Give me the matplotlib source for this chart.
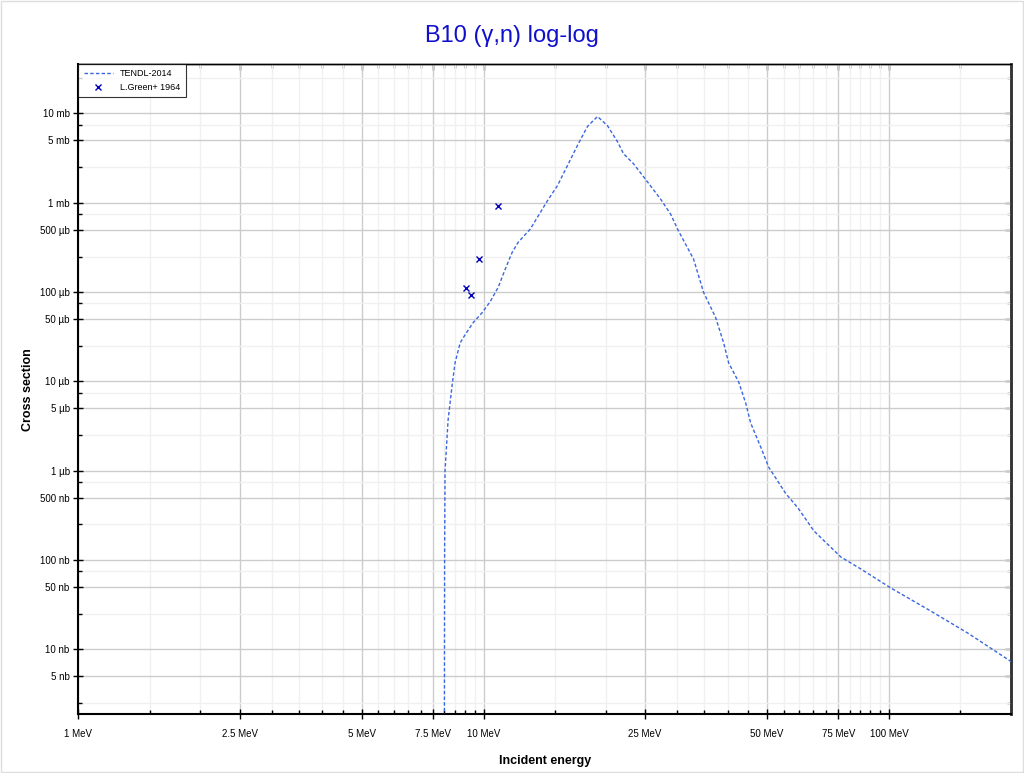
import matplotlib
matplotlib.use("Agg")
import matplotlib.pyplot as plt
from matplotlib.ticker import FixedLocator, FixedFormatter, NullFormatter
from matplotlib.patches import Rectangle

plt.rcParams['font.family'] = ['Liberation Sans', 'DejaVu Sans']

# ---- data (energies in MeV, cross sections in barns) ----
tendl_energy = [7.99, 8.01, 8.03, 8.17, 8.36, 8.50, 8.75, 9.00, 9.42, 9.92, 10.38,
                10.86, 11.30, 11.76, 12.17, 13.03, 14.36, 15.20, 16.09, 17.03, 18.03,
                19.09, 20.20, 21.38, 22.13, 23.42, 25.37, 27.32, 28.92, 30.09, 32.96,
                34.89, 37.36, 39.09, 40.22, 42.58, 44.31, 45.60, 48.28, 50.52, 55.65,
                59.57, 65.26, 76.08, 85.27, 101.2, 127.0, 156.8, 200.0]
tendl_xs = [1e-11, 9.75e-8, 1.0e-6, 3.67e-6, 9.1e-6, 1.61e-5, 2.70e-5, 3.33e-5, 4.55e-5,
            5.89e-5, 7.83e-5, 1.13e-4, 1.80e-4, 2.79e-4, 3.62e-4, 5.07e-4, 1.05e-3,
            1.55e-3, 2.60e-3, 4.37e-3, 7.14e-3, 9.25e-3, 7.32e-3, 4.84e-3, 3.55e-3,
            2.74e-3, 1.71e-3, 1.10e-3, 7.48e-4, 5.07e-4, 2.33e-4, 9.9e-5, 5.18e-5,
            2.70e-5, 1.61e-5, 9.84e-6, 5.71e-6, 3.40e-6, 1.83e-6, 1.09e-6, 5.54e-7,
            3.85e-7, 2.12e-7, 1.08e-7, 7.92e-8, 4.84e-8, 2.67e-8, 1.51e-8, 7.3e-9]

green_energy = [9.02, 9.31, 9.73, 10.84]
green_xs = [1.12e-4, 9.16e-5, 2.33e-4, 9.27e-4]

x_major = [1, 2.5, 5, 7.5, 10, 25, 50, 75, 100]
x_major_labels = ["1 MeV", "2.5 MeV", "5 MeV", "7.5 MeV", "10 MeV", "25 MeV",
                  "50 MeV", "75 MeV", "100 MeV"]
x_minor = [1.5, 2, 3, 3.5, 4, 4.5, 5.5, 6, 6.5, 7, 8, 8.5, 9, 9.5,
           15, 20, 30, 35, 40, 45, 55, 60, 65, 70, 80, 85, 90, 95, 150]

y_major = [5e-9, 1e-8, 5e-8, 1e-7, 5e-7, 1e-6, 5e-6, 1e-5, 5e-5, 1e-4, 5e-4,
           1e-3, 5e-3, 1e-2]
y_major_labels = ["5 nb", "10 nb", "50 nb", "100 nb", "500 nb", "1 µb", "5 µb",
                  "10 µb", "50 µb", "100 µb", "500 µb", "1 mb", "5 mb", "10 mb"]
y_minor = [2.5e-9, 2.5e-8, 7.5e-8, 2.5e-7, 7.5e-7, 2.5e-6, 7.5e-6, 2.5e-5, 7.5e-5,
           2.5e-4, 7.5e-4, 2.5e-3, 7.5e-3, 2.5e-2]

fig = plt.figure(figsize=(10.24, 7.73), dpi=100)
fig.patches.append(Rectangle((0.001, 0.001), 0.998, 0.998, transform=fig.transFigure,
                             fill=False, edgecolor='#dddddd', linewidth=1))
ax = fig.add_axes([0.0765, 0.0759, 0.9108, 0.8413])
ax.set_xscale('log')
ax.set_yscale('log')
ax.set_xlim(1, 200)
ax.set_ylim(1.87e-9, 3.58e-2)

ax.plot(tendl_energy, tendl_xs, linestyle=(0, (2.5, 1.6)), color='#3a66e0',
        linewidth=1.0, label='TENDL-2014', zorder=3)
ax.plot(green_energy, green_xs, linestyle='none', marker='x', color='#0000b4',
        markersize=4.5, markeredgewidth=1.0, label='L.Green+ 1964', zorder=4)

ax.xaxis.set_major_locator(FixedLocator(x_major))
ax.xaxis.set_major_formatter(FixedFormatter(x_major_labels))
ax.xaxis.set_minor_locator(FixedLocator(x_minor))
ax.xaxis.set_minor_formatter(NullFormatter())
ax.yaxis.set_major_locator(FixedLocator(y_major))
ax.yaxis.set_major_formatter(FixedFormatter(y_major_labels))
ax.yaxis.set_minor_locator(FixedLocator(y_minor))
ax.yaxis.set_minor_formatter(NullFormatter())

ax.grid(True, which='major', color='#cccccc', linewidth=1.0)
ax.grid(True, which='minor', color='#f0f0f0', linewidth=1.0)
ax.set_axisbelow(True)

ax.tick_params(axis='x', which='major', direction='inout', length=6.5, width=1.0,
               labelsize=7, pad=7, top=False)
ax.tick_params(axis='y', which='major', direction='inout', length=6.5, width=1.0,
               labelsize=7, pad=3, right=False)
ax.tick_params(which='minor', direction='in', length=3, width=1.0, top=False, right=False)

# inward ticks on top and right
sx = ax.secondary_xaxis('top', functions=(lambda v: v, lambda v: v))
sx.set_xscale('log')
sx.xaxis.set_major_locator(FixedLocator(x_major))
sx.xaxis.set_minor_locator(FixedLocator(x_minor))
sx.xaxis.set_major_formatter(NullFormatter())
sx.xaxis.set_minor_formatter(NullFormatter())
sx.tick_params(which='major', direction='in', length=4, width=1.0)
sx.tick_params(which='minor', direction='in', length=3, width=1.0)
sx.spines['top'].set_linewidth(1.0)

sy = ax.secondary_yaxis('right', functions=(lambda v: v, lambda v: v))
sy.set_yscale('log')
sy.yaxis.set_major_locator(FixedLocator(y_major))
sy.yaxis.set_minor_locator(FixedLocator(y_minor))
sy.yaxis.set_major_formatter(NullFormatter())
sy.yaxis.set_minor_formatter(NullFormatter())
sy.tick_params(which='major', direction='in', length=4, width=1.0, color='#333333')
sy.tick_params(which='minor', direction='in', length=3, width=1.0, color='#333333')
sy.spines['right'].set_linewidth(1.8)
sy.spines['right'].set_color('#333333')

for s in ['left', 'bottom']:
    ax.spines[s].set_linewidth(1.5)
    ax.spines[s].set_color('black')
ax.spines['right'].set_linewidth(1.8)
ax.spines['right'].set_color('#333333')
ax.spines['top'].set_linewidth(1.0)
ax.spines['top'].set_color('black')

ax.set_xlabel('Incident energy', fontsize=9, fontweight='bold', labelpad=12)
ax.set_ylabel('Cross section', fontsize=9, fontweight='bold', labelpad=4)
fig.text(0.5, 0.953, 'B10 (γ,n) log-log', ha='center', va='center',
         fontsize=17, color='#1010cc')

leg = ax.legend(loc='upper left', fontsize=6.5, frameon=True, fancybox=False,
                edgecolor='black', borderaxespad=0, handlelength=3.2,
                borderpad=0.6, labelspacing=0.5)
leg.get_frame().set_linewidth(0.8)

fig.savefig('out.png', dpi=100, facecolor='white')
